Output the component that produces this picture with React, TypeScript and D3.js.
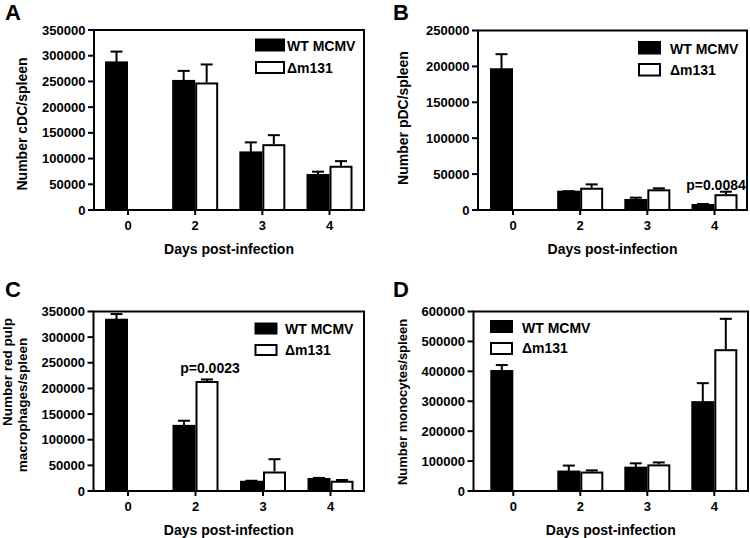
import React from "react";
import * as d3 from "d3";

// ---------- data ----------
const DAYS = ["0", "2", "3", "4"];

const A_WT = [287000, 251000, 112000, 68000];
const A_WT_ERR = [21000, 19500, 19500, 6500];
const A_DM = [null, 248000, 128000, 86000];
const A_DM_ERR = [null, 35000, 17500, 9000];
const A_TICKS = [0, 50000, 100000, 150000, 200000, 250000, 300000, 350000];

const B_WT = [196000, 25500, 14000, 7000];
const B_WT_ERR = [21000, 700, 3200, 1400];
const B_DM = [null, 31000, 28800, 22000];
const B_DM_ERR = [null, 4700, 1400, 3500];
const B_TICKS = [0, 50000, 100000, 150000, 200000, 250000];

const C_WT = [334000, 127000, 18000, 23500];
const C_WT_ERR = [11000, 10000, 2000, 2000];
const C_DM = [null, 214500, 38000, 20000];
const C_DM_ERR = [null, 3000, 24000, 1500];
const C_TICKS = [0, 50000, 100000, 150000, 200000, 250000, 300000, 350000];

const D_WT = [401000, 65000, 78000, 297000];
const D_WT_ERR = [20000, 20000, 14500, 63500];
const D_DM = [null, 65000, 89000, 474000];
const D_DM_ERR = [null, 4000, 6500, 101500];
const D_TICKS = [0, 100000, 200000, 300000, 400000, 500000, 600000];

const SERIES = ["WT MCMV", "\u0394m131"];
const X_TITLE = "Days post-infection";

const FONT = "'Liberation Sans', Arial, Helvetica, sans-serif";

type Panel = {
  letter: string;
  letterX: number;
  letterY: number;
  wt: number[];
  wtErr: number[];
  dm: (number | null)[];
  dmErr: (number | null)[];
  ticks: number[];
  frame: { l: number; r: number; t: number; b: number };
  tick0: number;
  tick3: number;
  ylabel: { text: string; x: number; y: number; size: number }[];
  legend: { x: number; w: number; h: number; y1: number; y2: number; tx: number; b1: number; b2: number };
  pval?: { text: string; x: number; y: number };
};

const PANELS: Panel[] = [
  {
    letter: "A", letterX: 5, letterY: 20,
    wt: A_WT, wtErr: A_WT_ERR, dm: A_DM, dmErr: A_DM_ERR, ticks: A_TICKS,
    frame: { l: 94, r: 364, t: 30, b: 210 }, tick0: 128, tick3: 329.5,
    ylabel: [{ text: "Number cDC/spleen", x: 26.5, y: 124, size: 14 }],
    legend: { x: 255, w: 30, h: 13, y1: 38.5, y2: 61, tx: 287, b1: 51, b2: 73 },
  },
  {
    letter: "B", letterX: 393, letterY: 20,
    wt: B_WT, wtErr: B_WT_ERR, dm: B_DM, dmErr: B_DM_ERR, ticks: B_TICKS,
    frame: { l: 478, r: 747, t: 30.5, b: 210 }, tick0: 513, tick3: 714.5,
    ylabel: [{ text: "Number pDC/spleen", x: 407.5, y: 118, size: 14 }],
    legend: { x: 638, w: 23, h: 13.5, y1: 41, y2: 63, tx: 670, b1: 54, b2: 75 },
    pval: { text: "p=0.0084", x: 716, y: 190 },
  },
  {
    letter: "C", letterX: 5, letterY: 297,
    wt: C_WT, wtErr: C_WT_ERR, dm: C_DM, dmErr: C_DM_ERR, ticks: C_TICKS,
    frame: { l: 93.5, r: 364, t: 311.5, b: 491 }, tick0: 128, tick3: 330.5,
    ylabel: [
      { text: "Number red pulp", x: 11.5, y: 372, size: 13.5 },
      { text: "macrophages/spleen", x: 26.5, y: 405, size: 13.5 },
    ],
    legend: { x: 254.5, w: 23, h: 12, y1: 322.5, y2: 344, tx: 285, b1: 334, b2: 355 },
    pval: { text: "p=0.0023", x: 210, y: 373 },
  },
  {
    letter: "D", letterX: 393, letterY: 297,
    wt: D_WT, wtErr: D_WT_ERR, dm: D_DM, dmErr: D_DM_ERR, ticks: D_TICKS,
    frame: { l: 473.5, r: 748, t: 311.5, b: 491 }, tick0: 513.3, tick3: 714.3,
    ylabel: [{ text: "Number monocytes/spleen", x: 407, y: 402, size: 13 }],
    legend: { x: 490, w: 23, h: 13, y1: 320, y2: 342, tx: 522, b1: 333, b2: 353 },
  },
];

const BW = 23;
const SW = 2;
const CAP = 12;

function PanelView({ p }: { p: Panel }) {
  const { frame } = p;
  const y = d3.scaleLinear().domain([0, p.ticks[p.ticks.length - 1]]).range([frame.b, frame.t]);
  const x = d3.scaleLinear().domain([0, DAYS.length - 1]).range([p.tick0, p.tick3]);

  const bars: React.ReactNode[] = [];
  DAYS.forEach((d, i) => {
    const cx = x(i);
    const wv = p.wt[i];
    const we = p.wtErr[i];
    const wMid = cx - BW / 2;
    bars.push(
      <g key={"w" + i}>
        <line x1={wMid} x2={wMid} y1={y(wv)} y2={y(wv + we)} stroke="#000" strokeWidth={SW} />
        <line x1={wMid - CAP / 2} x2={wMid + CAP / 2} y1={y(wv + we)} y2={y(wv + we)} stroke="#000" strokeWidth={SW} />
        <rect x={cx - BW + SW / 2} y={y(wv)} width={BW - SW} height={y(0) - y(wv)} fill="#000" stroke="#000" strokeWidth={SW} />
      </g>
    );
    const dv = p.dm[i];
    const de = p.dmErr[i];
    if (dv != null && de != null) {
      const dMid = cx + BW / 2;
      bars.push(
        <g key={"d" + i}>
          <line x1={dMid} x2={dMid} y1={y(dv)} y2={y(dv + de)} stroke="#000" strokeWidth={SW} />
          <line x1={dMid - CAP / 2} x2={dMid + CAP / 2} y1={y(dv + de)} y2={y(dv + de)} stroke="#000" strokeWidth={SW} />
          <rect x={cx + SW / 2} y={y(dv) + SW / 2} width={BW - SW} height={y(0) - y(dv) - SW / 2} fill="#fff" stroke="#000" strokeWidth={SW} />
        </g>
      );
    }
  });

  const midX = (frame.l + frame.r) / 2;
  const lg = p.legend;

  return (
    <g fontFamily={FONT} fontWeight="bold" fill="#000">
      <text x={p.letterX} y={p.letterY} fontSize={22}>{p.letter}</text>
      {bars}
      <rect x={frame.l} y={frame.t} width={frame.r - frame.l} height={frame.b - frame.t} fill="none" stroke="#000" strokeWidth={SW} />
      {p.ticks.map((t) => (
        <g key={"yt" + t}>
          <line x1={frame.l - 6} x2={frame.l} y1={y(t)} y2={y(t)} stroke="#000" strokeWidth={SW} />
          <text x={frame.l - 8.5} y={y(t) + 4.5} fontSize={13} textAnchor="end">{t}</text>
        </g>
      ))}
      {DAYS.map((d, i) => (
        <g key={"xt" + d}>
          <line x1={x(i)} x2={x(i)} y1={frame.b} y2={frame.b + 5} stroke="#000" strokeWidth={SW} />
          <text x={x(i)} y={frame.b + 20} fontSize={13} textAnchor="middle">{d}</text>
        </g>
      ))}
      <text x={midX} y={frame.b + 44} fontSize={14} textAnchor="middle">{X_TITLE}</text>
      {p.ylabel.map((l, k) => (
        <text key={"yl" + k} transform={`translate(${l.x},${l.y}) rotate(-90)`} fontSize={l.size} textAnchor="middle">{l.text}</text>
      ))}
      <rect x={lg.x + 1} y={lg.y1 + 1} width={lg.w - 2} height={lg.h - 2} fill="#000" stroke="#000" strokeWidth={SW} />
      <rect x={lg.x + 1} y={lg.y2 + 1} width={lg.w - 2} height={lg.h - 2} fill="#fff" stroke="#000" strokeWidth={SW} />
      <text x={lg.tx} y={lg.b1} fontSize={14}>{SERIES[0]}</text>
      <text x={lg.tx} y={lg.b2} fontSize={14}>{SERIES[1]}</text>
      {p.pval && (
        <text x={p.pval.x} y={p.pval.y} fontSize={14} textAnchor="middle">{p.pval.text}</text>
      )}
    </g>
  );
}

export default function App() {
  return (
    <svg width={750} height={538} style={{ position: "absolute", left: 0, top: 0, background: "#fff" }}>
      <rect x={0} y={0} width={750} height={538} fill="#fff" />
      {PANELS.map((p) => (
        <PanelView key={p.letter} p={p} />
      ))}
    </svg>
  );
}
